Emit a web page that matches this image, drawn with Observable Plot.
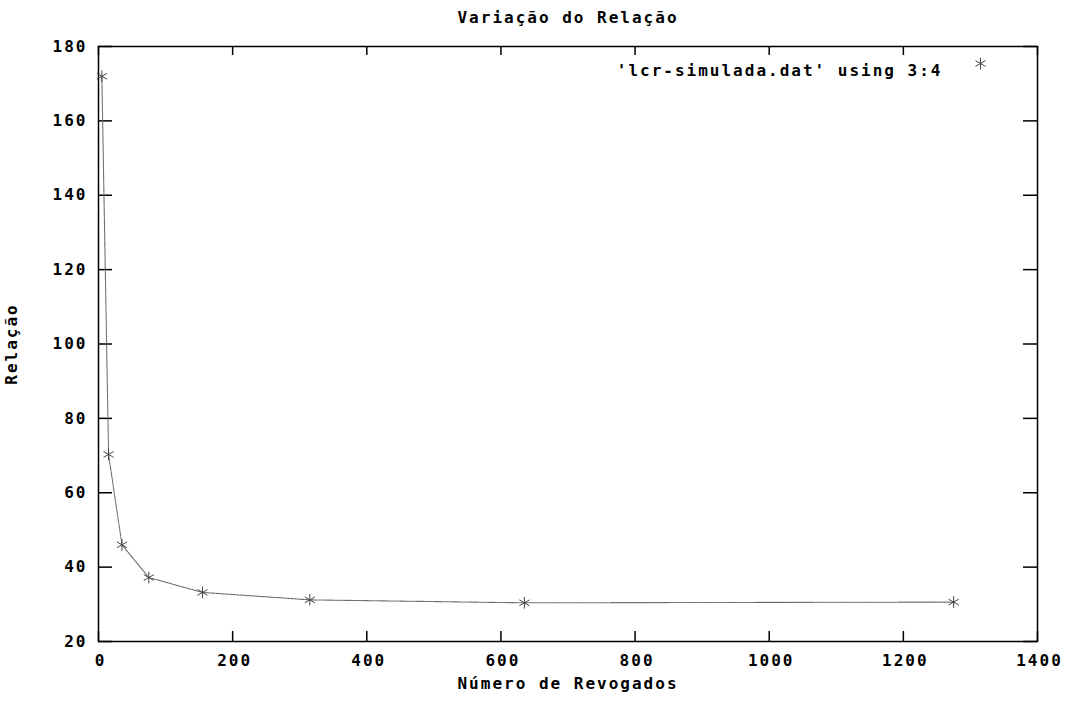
<!DOCTYPE html>
<html>
<head>
<meta charset="utf-8">
<script src="https://cdn.jsdelivr.net/npm/d3@7"></script>
<script src="https://cdn.jsdelivr.net/npm/@observablehq/plot@0.6"></script>
<style>
  html, body { margin: 0; padding: 0; background: #fff; }
  #chart { position: relative; width: 1075px; height: 703px; }
  #chart svg { position: absolute; left: 0; top: 0; }
  /* wide fixed-pitch lettering, about 11.7px per character */
  #chart svg text { letter-spacing: 2px; }
</style>
</head>
<body>
<div id="chart"></div>
<script>
// Número de revogados (coluna 3) e relação (coluna 4) de lcr-simulada.dat
const revogados = [5, 15, 35, 75, 155, 315, 635, 1275];
const relacao = [172, 70.3, 46, 37.2, 33.2, 31.2, 30.4, 30.6];

const xTicks = [0, 200, 400, 600, 800, 1000, 1200, 1400];
const yTicks = [20, 40, 60, 80, 100, 120, 140, 160, 180];

const titulo = "Variação do Relação";
const rotuloX = "Número de Revogados";
const rotuloY = "Relação";
const legenda = "'lcr-simulada.dat' using 3:4";

const pontos = revogados.map((x, i) => ({x, y: relacao[i]}));

const W = 1075, H = 703;
const mTop = 46, mBottom = 62, mLeft = 98, mRight = 38;
const innerH = H - mTop - mBottom;
const innerW = W - mLeft - mRight;

const mono = "'DejaVu Sans Mono', 'Liberation Mono', monospace";
const fmt = d3.format("d");

const chart = Plot.plot({
  width: W,
  height: H,
  marginTop: mTop,
  marginBottom: mBottom,
  marginLeft: mLeft,
  marginRight: mRight,
  style: {fontFamily: mono, background: "#fff", color: "#000", overflow: "visible"},
  x: {domain: [0, 1400]},
  y: {domain: [20, 180]},
  marks: [
    // inward ticks on all four sides
    Plot.ruleX(xTicks, {x: d => d, insetTop: innerH - 10, stroke: "#000", strokeWidth: 1.5}),
    Plot.ruleX(xTicks, {x: d => d, insetBottom: innerH - 9, stroke: "#000", strokeWidth: 1.5}),
    Plot.ruleY(yTicks, {y: d => d, insetRight: innerW - 14, stroke: "#000", strokeWidth: 1.5}),
    Plot.ruleY(yTicks, {y: d => d, insetLeft: innerW - 14, stroke: "#000", strokeWidth: 1.5}),
    Plot.frame({stroke: "#000", strokeWidth: 1.5}),
    // tick labels
    Plot.axisX({ticks: xTicks, tickFormat: fmt, tickSize: 0, tickPadding: 13, label: null,
      fontSize: 16, fontWeight: "bold", dx: 2}),
    Plot.axisY({ticks: yTicks, tickFormat: fmt, tickSize: 0, tickPadding: 11, label: null,
      fontSize: 16, fontWeight: "bold"}),
    // series
    Plot.line(pontos, {x: "x", y: "y", stroke: "#666", strokeWidth: 1.1, strokeDasharray: "1.2,1"}),
    Plot.dot(pontos, {x: "x", y: "y", symbol: "asterisk", r: 5.5, stroke: "#444", strokeWidth: 1}),
    // legend
    Plot.text([legenda], {frameAnchor: "top-right", dx: -95, dy: 18, textAnchor: "end",
      fontSize: 16, fontWeight: "bold", fill: "#000"}),
    Plot.dot([0], {frameAnchor: "top-right", dx: -57, dy: 17, symbol: "asterisk", r: 5.5, stroke: "#444", strokeWidth: 1}),
    // title and axis labels
    Plot.text([titulo], {frameAnchor: "top", dy: -35, fontSize: 16, fontWeight: "bold", fill: "#000"}),
    Plot.text([rotuloX], {frameAnchor: "bottom", dy: 47, fontSize: 16, fontWeight: "bold", fill: "#000"}),
    Plot.text([rotuloY], {frameAnchor: "left", dx: -87, rotate: -90, textAnchor: "middle",
      fontSize: 16, fontWeight: "bold", fill: "#000"})
  ]
});

document.getElementById("chart").appendChild(chart);
</script>
</body>
</html>
